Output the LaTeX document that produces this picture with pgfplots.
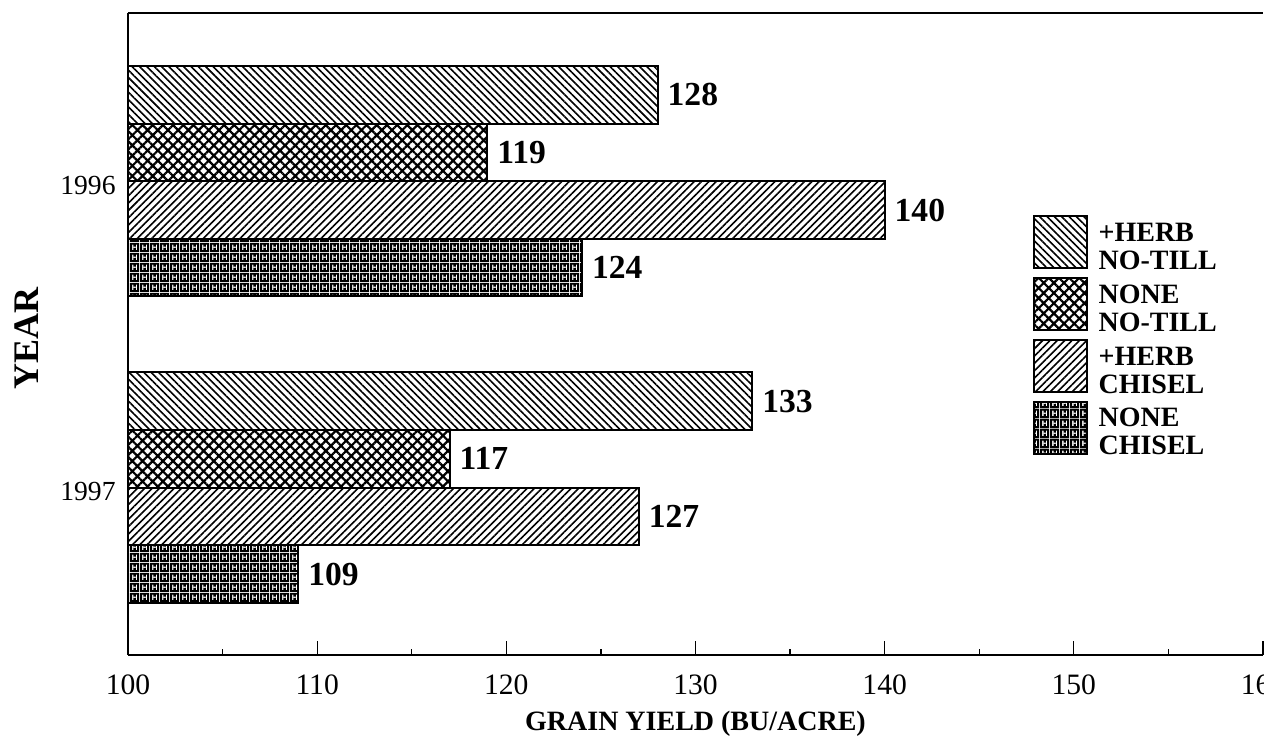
\documentclass[border=0pt]{standalone}
\usepackage{fontspec}
\setmainfont{Liberation Serif}
\usepackage{pgfplots}
\pgfplotsset{compat=1.18}
\usetikzlibrary{patterns,patterns.meta}

% black tile with a small white "H" cut out of it
\tikzdeclarepattern{
  name=Hgrid,
  type=uncolored,
  bounding box={(0pt,0pt) and (2.5pt,2.4pt)},
  tile size={(2.5pt,2.4pt)},
  code={
    \fill[even odd rule] (0pt,0pt) rectangle (2.5pt,2.4pt)
      (0.6pt,0.5pt) rectangle (0.95pt,1.9pt)
      (1.6pt,0.5pt) rectangle (1.95pt,1.9pt)
      (0.95pt,1.05pt) rectangle (1.6pt,1.4pt);
  }
}

\newcommand\legtwo[2]{\begin{tabular}[b]{@{}l@{}}#1\\#2\end{tabular}}

\pgfplotsset{
  legbox/.style={legend image code/.code={\draw[##1,line width=0.5pt] (0pt,-4.9pt) rectangle (13.25pt,8.1pt);}},
  barframe/.style={draw=black, line width=0.5pt, pattern color=black},
}

\begin{document}
\begin{tikzpicture}
\begin{axis}[
  name=ax,
  scale only axis,
  width=283.75pt, height=160.5pt,
  xbar,
  bar width=0.188,
  xmin=100, xmax=160,
  ymin=-0.549, ymax=1.546,
  y dir=reverse,
  axis x line*=box, axis y line*=left,
  axis line style={line width=0.6pt},
  xtick={100,110,...,160},
  minor x tick num=1,
  tick align=inside,
  xtick pos=left,
  major tick length=3.5pt, minor tick length=1.5pt,
  x tick style={line width=0.3pt, black},
  ytick={0,1}, yticklabels={1996,1997},
  y tick style={draw=none},
  /pgf/number format/assume math mode=true,
  /pgf/number format/1000 sep={},
  xticklabel style={font=\fontsize{7.4}{8}\selectfont, inner sep=0pt, anchor=north, yshift=-4.7pt},
  yticklabel style={font=\fontsize{6.9}{8}\selectfont, inner sep=0pt, anchor=east, xshift=-2.9pt, yshift=-1pt},
  xlabel={GRAIN YIELD (BU/ACRE)},
  xlabel style={font=\bfseries\fontsize{7}{8}\selectfont, at={(axis description cs:0.5,0)}, anchor=base, yshift=-19pt},
  ylabel={YEAR},
  ylabel style={font=\bfseries\fontsize{9}{10}\selectfont, at={(axis description cs:0,0.5)}, anchor=center, yshift=25.25pt, xshift=-1.2pt},
  nodes near coords,
  nodes near coords style={font=\bfseries\fontsize{8.4}{9}\selectfont, anchor=west, inner sep=0pt, xshift=2.25pt, text=black},
  legend style={at={(0.797,0.685)}, anchor=north west, draw=none, fill=none,
    inner sep=0pt, outer sep=0pt, row sep=0.4pt, column sep=2.75pt,
    font=\bfseries\fontsize{7}{7}\selectfont, nodes={inner sep=0pt}},
  legend cell align=left,
]
% +HERB, NO-TILL
\addplot[barframe, pattern={Lines[angle=-45,distance=1.3pt,line width=0.4pt]}, bar shift=-0.282, legbox]
  coordinates {(128,0) (133,1)};
\addlegendentry{\legtwo{+HERB}{NO-TILL}}
% NONE, NO-TILL
\addplot[barframe, pattern={Hatch[angle=45,distance=1.8pt,line width=0.55pt]}, bar shift=-0.094, legbox]
  coordinates {(119,0) (117,1)};
\addlegendentry{\legtwo{NONE}{NO-TILL}}
% +HERB, CHISEL
\addplot[barframe, pattern={Lines[angle=45,distance=1.3pt,line width=0.4pt]}, bar shift=0.094, legbox]
  coordinates {(140,0) (127,1)};
\addlegendentry{\legtwo{+HERB}{CHISEL}}
% NONE, CHISEL
\addplot[barframe, pattern=Hgrid, bar shift=0.282, legbox]
  coordinates {(124,0) (109,1)};
\addlegendentry{\legtwo{NONE}{CHISEL}}
\end{axis}
\pgfresetboundingbox
\path[use as bounding box] ([xshift=-32pt,yshift=-20.25pt]ax.south west) rectangle ([xshift=0.25pt,yshift=3.25pt]ax.north east);
\end{tikzpicture}
\end{document}
